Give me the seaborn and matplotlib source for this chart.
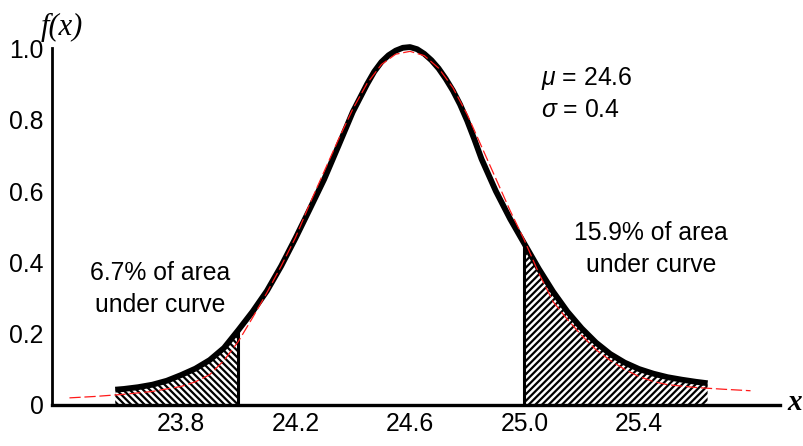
import math
import matplotlib
matplotlib.use("Agg")
import matplotlib.pyplot as plt
from matplotlib import font_manager
import seaborn as sns

# Distribution parameters
mu = 24.6
sigma = 0.4
lower_cut = 24.0
upper_cut = 25.0

# Drawn density curve (heavy black line)
black_x = [23.57, 23.60, 23.65, 23.70, 23.75, 23.80, 23.85, 23.90, 23.95, 24.00,
           24.05, 24.10, 24.15, 24.20, 24.25, 24.30, 24.35, 24.40, 24.45, 24.475,
           24.50, 24.525, 24.55, 24.575, 24.60, 24.625, 24.65, 24.675, 24.70, 24.725,
           24.75, 24.775, 24.80, 24.825, 24.85, 24.90, 24.95, 25.00,
           25.05, 25.10, 25.15, 25.20, 25.25, 25.30, 25.35, 25.40, 25.45, 25.50,
           25.55, 25.60, 25.64]
black_y = [0.043, 0.045, 0.050, 0.057, 0.068, 0.084, 0.102, 0.126, 0.160, 0.210,
           0.262, 0.320, 0.390, 0.468, 0.550, 0.633, 0.727, 0.822, 0.900, 0.935,
           0.962, 0.981, 0.994, 1.002, 1.004, 0.998, 0.985, 0.967, 0.944, 0.915,
           0.882, 0.843, 0.797, 0.745, 0.690, 0.600, 0.522, 0.452,
           0.382, 0.318, 0.262, 0.215, 0.175, 0.143, 0.119, 0.101, 0.088, 0.078,
           0.071, 0.065, 0.061]

# Reference curve (thin red dashed line)
red_x = [23.41, 23.50, 23.60, 23.70, 23.80, 23.85, 23.90, 23.95, 24.00, 24.05,
         24.10, 24.15, 24.20, 24.25, 24.30, 24.35, 24.40, 24.45, 24.50, 24.55,
         24.60, 24.65, 24.70, 24.75, 24.80, 24.85, 24.90, 24.95, 25.00, 25.05,
         25.10, 25.15, 25.20, 25.25, 25.30, 25.35, 25.40, 25.45, 25.50, 25.60,
         25.70, 25.79]
red_y = [0.020, 0.024, 0.030, 0.038, 0.052, 0.065, 0.085, 0.125, 0.178, 0.245,
         0.315, 0.390, 0.470, 0.565, 0.655, 0.745, 0.830, 0.902, 0.955, 0.984,
         0.992, 0.980, 0.945, 0.890, 0.815, 0.725, 0.635, 0.545, 0.462, 0.370,
         0.290, 0.240, 0.195, 0.155, 0.125, 0.100, 0.080, 0.066, 0.057, 0.049,
         0.044, 0.040]

x_ticks = [23.8, 24.2, 24.6, 25.0, 25.4]
x_tick_labels = ["23.8", "24.2", "24.6", "25.0", "25.4"]
y_ticks = [0, 0.2, 0.4, 0.6, 0.8, 1.0]
y_tick_labels = ["0", "0.2", "0.4", "0.6", "0.8", "1.0"]


def normal_cdf(z):
    return 0.5 * (1.0 + math.erf(z / math.sqrt(2.0)))


left_pct = 100.0 * normal_cdf((lower_cut - mu) / sigma)
right_pct = 100.0 * (1.0 - normal_cdf((upper_cut - mu) / sigma))

sns.set_style("white")
installed = {f.name for f in font_manager.fontManager.ttflist}
if "Liberation Sans Narrow" in installed:
    plt.rcParams["font.family"] = ["Liberation Sans Narrow", "DejaVu Sans"]
    fs = 19
else:
    plt.rcParams["font.family"] = ["Liberation Sans", "DejaVu Sans"]
    fs = 17.8
plt.rcParams["text.color"] = "black"
plt.rcParams["mathtext.fontset"] = "custom"
plt.rcParams["mathtext.it"] = "Liberation Sans:italic"
plt.rcParams["mathtext.rm"] = "Liberation Sans"
plt.rcParams["hatch.color"] = "black"
plt.rcParams["hatch.linewidth"] = 1.6

fig = plt.figure(figsize=(8.04, 4.46), dpi=100)
ax = fig.add_axes([52 / 804, 41 / 446, 728 / 804, 356.5 / 446])

# Shaded tails
i_lo = black_x.index(lower_cut)
i_hi = black_x.index(upper_cut)
ax.fill_between(black_x[:i_lo + 1], black_y[:i_lo + 1], 0, facecolor="white",
                edgecolor="black", hatch="\\" * 5, linewidth=0, zorder=1)
ax.fill_between(black_x[i_hi:], black_y[i_hi:], 0, facecolor="white",
                edgecolor="black", hatch="/" * 5, linewidth=0, zorder=1)
ax.plot([lower_cut, lower_cut], [0, black_y[i_lo]], color="black", lw=2.2, zorder=3)
ax.plot([upper_cut, upper_cut], [0, black_y[i_hi]], color="black", lw=2.2, zorder=3)

sns.lineplot(x=black_x, y=black_y, ax=ax, color="black", lw=4.2,
             estimator=None, sort=False, zorder=4)
sns.lineplot(x=red_x, y=red_y, ax=ax, color="#ff1a1a", lw=0.9,
             estimator=None, sort=False, zorder=5)
ax.lines[-2].set_solid_capstyle("butt")
ax.lines[-2].set_solid_joinstyle("round")
ax.lines[-1].set_dashes((9, 3))
for ln in ax.lines:
    ln.set_clip_on(False)

ax.set_xlim(23.349, 25.893)
ax.set_ylim(0, 1.0)
ax.set_xticks(x_ticks)
ax.set_xticklabels(x_tick_labels)
ax.set_yticks(y_ticks)
ax.set_yticklabels(y_tick_labels)
ax.tick_params(axis="x", direction="in", length=19, width=1.3, pad=5,
               labelsize=fs, colors="black")
ax.tick_params(axis="y", direction="in", length=13, width=1.4, pad=6,
               labelsize=fs, colors="black")

for side in ("top", "right"):
    ax.spines[side].set_visible(False)
ax.spines["left"].set_linewidth(2.0)
ax.spines["bottom"].set_linewidth(2.4)
ax.spines["left"].set_color("black")
ax.spines["bottom"].set_color("black")
ax.set_xlabel("")
ax.set_ylabel("")

serif = ["Liberation Serif", "DejaVu Serif"]
fig.text(62 / 804, 1 - 27 / 446, "f(x)", family=serif, style="italic",
         fontsize=22, ha="center", va="center")
fig.text(795 / 804, 1 - 403 / 446, "x", family=serif, style="italic",
         weight="bold", fontsize=21, ha="center", va="center")

ax.text(25.058, 0.917, f"$\\mu$ = {mu}", fontsize=fs, ha="left", va="center")
ax.text(25.058, 0.827, f"$\\sigma$ = {sigma}", fontsize=fs, ha="left", va="center")
ax.text(25.442, 0.482, f"{right_pct:.1f}% of area", fontsize=fs,
        ha="center", va="center")
ax.text(25.442, 0.393, "under curve", fontsize=fs, ha="center", va="center")
ax.text(23.727, 0.370, f"{left_pct:.1f}% of area", fontsize=fs,
        ha="center", va="center")
ax.text(23.727, 0.280, "under curve", fontsize=fs, ha="center", va="center")

fig.savefig("out.png", dpi=100, facecolor="white")
